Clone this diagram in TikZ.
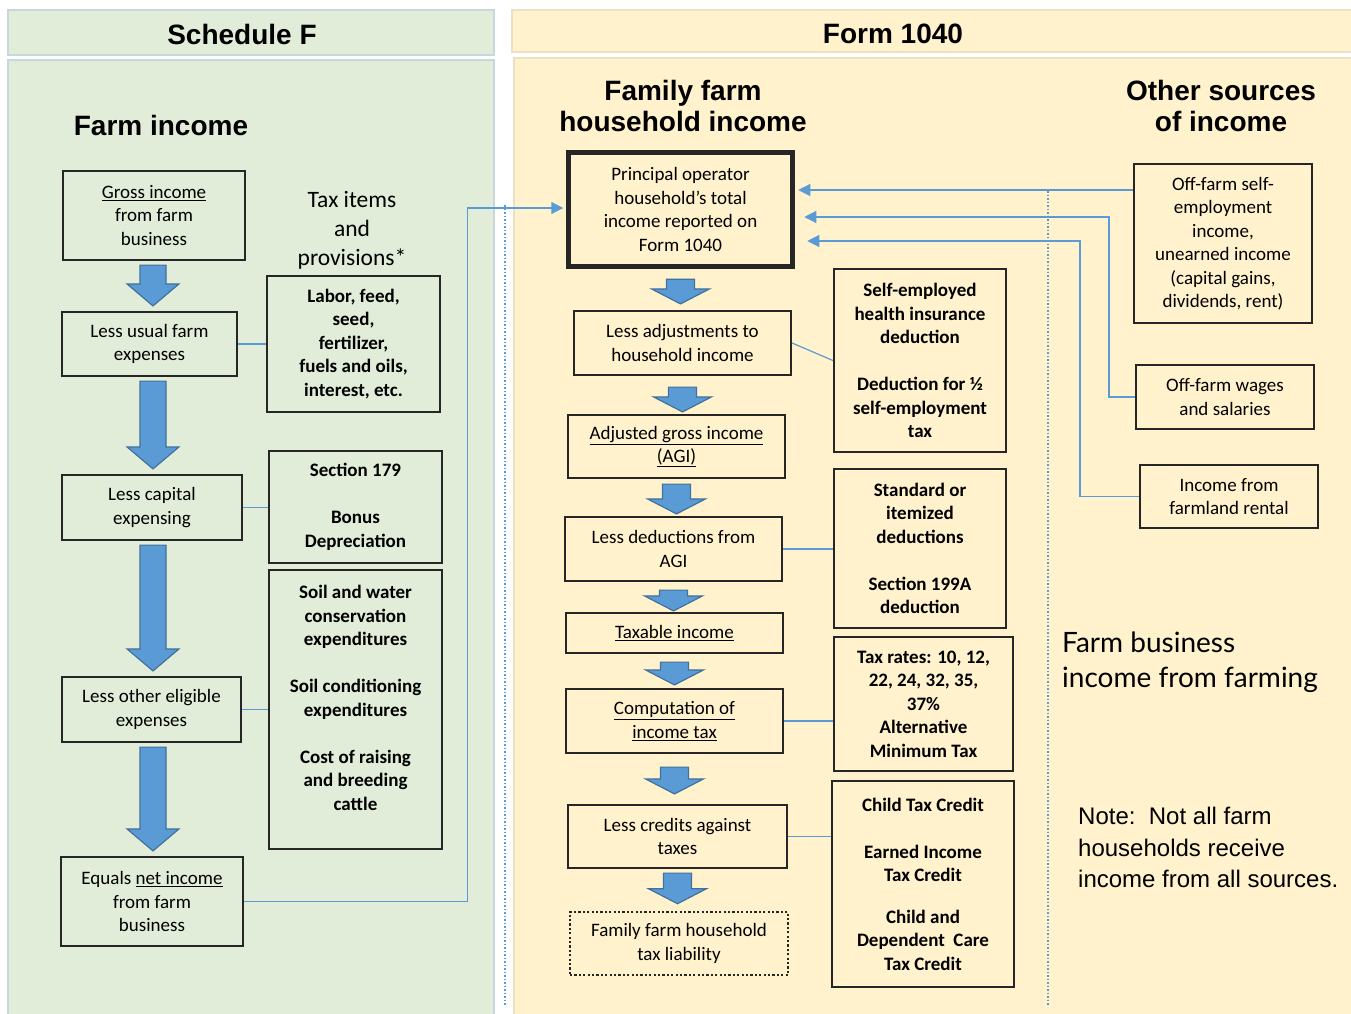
\documentclass[tikz,border=0pt]{standalone}
\usepackage{fontspec}
\setmainfont{Carlito}
\newfontfamily\arialfont{Liberation Sans}
\newfontfamily\myriadfont{Lato}
\usetikzlibrary{calc, arrows.meta}
\tikzset{>={Triangle[length=12pt,width=12pt]}}
\definecolor{farmgreen}{RGB}{226,237,217}
\definecolor{formyellow}{RGB}{255,242,204}
\definecolor{greenedge}{RGB}{200,215,222}
\definecolor{yellowedge}{RGB}{236,224,196}
\definecolor{flowblue}{RGB}{91,155,213}
\definecolor{flowedge}{RGB}{65,113,156}
\definecolor{boxline}{RGB}{38,38,38}
\tikzset{ % box and connector styles
  my box/.style={draw=boxline,line width=2.2pt,align=center,inner sep=2pt,
    font=\fontsize{19}{23.5}\selectfont},
  bold box/.style={my box,font=\fontsize{19}{23.5}\selectfont\bfseries},
  wh/.style 2 args={minimum width=#1,minimum height=#2},
  head text/.style={font=\arialfont\fontsize{28}{31}\selectfont\bfseries,align=center},
  link/.style={flowblue,line width=1.2pt},
  flow arrow/.style={fill=flowblue,draw=flowedge,line width=1.2pt,line join=miter},
  guide/.style={flowblue,line width=1.2pt,dash pattern=on 1.5pt off 2pt}
}

\begin{document}
\begin{tikzpicture}[x=1pt,y=-1pt]
\useasboundingbox (0,0) rectangle (1351,1013);

% panels
\filldraw[fill=farmgreen,draw=greenedge,line width=2pt] (8,10) rectangle (494,55);
\filldraw[fill=farmgreen,draw=greenedge,line width=2pt] (8,60) rectangle (494,1020);
\filldraw[fill=formyellow,draw=yellowedge,line width=2pt] (512,10) rectangle (1356,52);
\filldraw[fill=formyellow,draw=yellowedge,line width=2pt] (514,58) rectangle (1356,1020);
\draw[guide] (505,205) -- (505,1005);
\draw[guide] (1048,191) -- (1048,1005);

% headings
\node[head text] (schedF)   at (242,34)     {Schedule F};
\node[head text] (form)     at (893,34)     {Form 1040};
\node[head text] (farmInc)  at (161,125)    {Farm income};
\node[head text] (famInc)   at (683,105.5)  {Family farm\\household income};
\node[head text] (otherInc) at (1221,105.5) {Other sources\\of income};
\node[align=center,font=\fontsize{23.5}{29}\selectfont] (taxItems) at (352,230)
  {Tax items\\and\\provisions*};

% Schedule F column
\node[my box,wh={182}{89}] (gross)   at (154,215.5) {\underline{Gross income}\\from farm\\business};
\node[my box,wh={175}{64}] (usual)   at (149.5,344) {Less usual farm\\expenses};
\node[my box,wh={180}{65}] (capital) at (152,507.5) {Less capital\\expensing};
\node[my box,wh={179}{65}] (other)   at (151.5,709.5) {Less other eligible\\expenses};
\node[my box,wh={182}{89}] (net)     at (152,901.5) {Equals \underline{net income}\\from farm\\business};

\node[bold box,wh={173}{136}] (labor)  at (353.5,344) {Labor, feed,\\seed,\\fertilizer,\\fuels and oils,\\interest, etc.};
\node[bold box,wh={173}{112}] (sec179) at (355.5,507) {Section 179\\[23.5pt]Bonus\\Depreciation};
\node[bold box,wh={173}{279}] (soil)   at (355.5,709.5) {Soil and water\\conservation\\expenditures\\[23.5pt]Soil conditioning\\expenditures\\[23.5pt]Cost of raising\\and breeding\\cattle\\\mbox{}};

% Form 1040 column
\node[my box,line width=5.5pt,wh={224}{114}] (principal) at (680.5,209.5) {Principal operator\\household’s total\\income reported on\\Form 1040};
\node[my box,wh={217}{64}] (adjust)  at (682.5,343)   {Less adjustments to\\household income};
\node[my box,wh={217}{63}] (agi)     at (676.5,446.5) {\underline{Adjusted gross income}\\\underline{(AGI)}};
\node[my box,wh={217}{64}] (deduct)  at (673.5,549)   {Less deductions from\\AGI};
\node[my box,wh={217}{40}] (taxable) at (674.5,633)   {\underline{Taxable income}};
\node[my box,wh={217}{64}] (compute) at (674.5,721)   {\underline{Computation of}\\\underline{income tax}};
\node[my box,wh={219}{63}] (credits) at (677.5,836.5) {Less credits against\\taxes};
\node[my box,line width=2.6pt,dash pattern=on 2.2pt off 2.2pt,wh={218}{63}] (liability) at (679,943.5) {Family farm household\\tax liability};

\node[bold box,wh={172}{183}] (selfemp)  at (920,360.5) {Self-employed\\health insurance\\deduction\\[23.5pt]Deduction for ½\\self-employment\\tax};
\node[bold box,wh={172}{159}] (standard) at (920,548.5) {Standard or\\itemized\\deductions\\[23.5pt]Section 199A\\deduction};
\node[bold box,wh={179}{134}] (rates)    at (923.5,704) {Tax rates: 10, 12,\\22, 24, 32, 35,\\37\%\\Alternative\\Minimum Tax};
\node[bold box,wh={182}{206}] (childcr)  at (923,884)   {Child Tax Credit\\[23.5pt]Earned Income\\Tax Credit\\[18pt]Child and\\Dependent\ \ Care\\Tax Credit};

% other sources
\node[my box,wh={178}{159}] (offself) at (1223,243.5) {Off-farm self-\\employment\\income,\\unearned income\\(capital gains,\\dividends, rent)};
\node[my box,wh={178}{64}]  (wages)   at (1225,397)   {Off-farm wages\\and salaries};
\node[my box,wh={178}{63}]  (rental)  at (1229,496.5) {Income from\\farmland rental};

\node[anchor=west,align=left,inner sep=0,font=\myriadfont\fontsize{28}{35}\selectfont] (bizNote)
  at (1062,662.5) {Farm business\\income from farming};
\node[anchor=west,align=left,inner sep=0,font=\arialfont\fontsize{24}{31.5}\selectfont] (allNote)
  at (1078,847.5) {Note:\ \ Not all farm\\households receive\\income from all sources.};

% block arrows
\foreach \a/\b in {gross/usual,usual/capital,capital/other,other/net}
  \filldraw[flow arrow] let \p1=([yshift=-4pt]\a.south), \p2=([yshift=5pt]\b.north),
      \p3=([xshift=-1pt]gross.south) in
    (\x3-13pt,\y1) -- (\x3+13pt,\y1) -- (\x3+13pt,\y2+22pt) -- (\x3+26pt,\y2+22pt)
    -- (\x3,\y2) -- (\x3-26pt,\y2+22pt) -- (\x3-13pt,\y2+22pt) -- cycle;
\foreach \a/\b/\t/\u in {principal/adjust/10/6,adjust/agi/11/2,agi/deduct/5/2,deduct/taxable/8/1,
    taxable/compute/8/3,compute/credits/13/10,credits/liability/4/7}
  \filldraw[flow arrow] let \p1=([yshift=-\t pt]\a.south), \p2=([yshift=\u pt]\b.north) in
    (\x1-14pt,\y1) -- (\x1+14pt,\y1) -- (\x1+14pt,\y2+15pt) -- (\x1+29pt,\y2+15pt)
    -- (\x1,\y2) -- (\x1-29pt,\y2+15pt) -- (\x1-14pt,\y2+15pt) -- cycle;

% connections
\draw[link] (usual.east) -- (labor.west);
\draw[link] (capital.east) -- (capital.east -| sec179.west);
\draw[link] (other.east) -- (other.east -| soil.west);
\coordinate (inNet) at ([xshift=-2.5pt,yshift=1.5pt]principal.west);
\draw[link,->] (net.east) -| ([xshift=-96pt]inNet) -- (inNet);

\draw[link] (adjust.east) -- (selfemp.west);
\draw[link] (deduct.east) -- (deduct.east -| standard.west);
\draw[link] (compute.east) -- (compute.east -| rates.west);
\draw[link] (credits.east) -- (credits.east -| childcr.west);

\coordinate (in1) at ([xshift=3pt,yshift=19.5pt]principal.east);
\coordinate (in2) at ([xshift=9pt,yshift=-7.5pt]principal.east);
\coordinate (in3) at ([xshift=12pt,yshift=-31.5pt]principal.east);
\draw[link,->] (offself.west |- in1) -- (in1);
\draw[link,->] (wages.west) -- ++(-26,0) |- (in2);
\draw[link,->] (rental.west) -- ++(-59,0) |- (in3);
\end{tikzpicture}
\end{document}
